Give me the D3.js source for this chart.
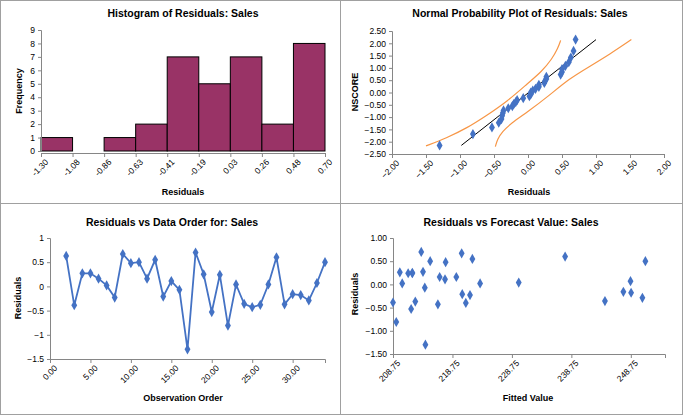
<!DOCTYPE html>
<html><head><meta charset="utf-8">
<script src="https://cdn.jsdelivr.net/npm/d3@7"></script>
<style>
body{margin:0;background:#fff;font-family:"Liberation Sans",Arial,sans-serif;}
text{fill:#000;}
</style></head><body>
<svg id="chart" width="683" height="415"></svg>
<script>
// histogram
const binEdges = [-1.30, -1.08, -0.86, -0.63, -0.41, -0.19, 0.03, 0.26, 0.48, 0.70];
const binCounts = [1, 0, 1, 2, 7, 5, 7, 2, 8];
// residuals in observation order (obs 2..34)
const obsOrder = d3.range(2, 35);
const residuals = [0.63, -0.39, 0.27, 0.27, 0.16, 0.02, -0.23, 0.67, 0.48, 0.50, 0.16, 0.55, -0.21, 0.11, -0.07,
  -1.30, 0.70, 0.25, -0.53, 0.24, -0.81, 0.04, -0.36, -0.43, -0.38, 0.04, 0.60, -0.37, -0.16, -0.18, -0.29, 0.07, 0.50];
// normal scores for sorted residuals
const nscores = [-2.15, -1.69, -1.42, -1.23, -1.08, -0.95, -0.83, -0.73, -0.64, -0.55, -0.47, -0.39, -0.31, -0.23, -0.15, -0.08,
  0.00, 0.08, 0.15, 0.23, 0.31, 0.39, 0.47, 0.55, 0.64, 0.73, 0.83, 0.95, 1.08, 1.23, 1.42, 1.69, 2.15];
const fitLine = [[-0.98, -2.15], [1.00, 2.15]];
const upperBand = [[-1.5, -2.17], [-1.2, -1.85], [-0.9, -1.45], [-0.6, -0.92], [-0.3, -0.35], [0, 0.38], [0.2, 0.85], [0.35, 1.35], [0.44, 1.8], [0.48, 2.12]];
const lowerBand = [[-0.48, -2.2], [-0.45, -1.9], [-0.38, -1.6], [-0.25, -1.25], [0, -0.78], [0.3, -0.15], [0.6, 0.55], [0.9, 1.05], [1.2, 1.55], [1.52, 2.15]];
// residuals vs fitted
const fitted = [208.75, 209.3, 209.9, 210.3, 211.3, 212.0, 211.8, 212.5, 213.5, 213.8, 214.1, 214.2, 215.0, 216.3, 216.6, 217.5, 217.6,
  219.4, 220.3, 220.4, 221.0, 221.7, 222.1, 223.4, 229.9, 237.7, 244.4, 247.5, 248.7, 248.8, 250.7, 251.2, 212.0];
const fittedResid = [-0.39, -0.81, 0.26, 0.02, 0.24, 0.24, -0.53, -0.37, 0.70, 0.27, -0.07, -1.30, 0.50, -0.43, 0.16, 0.11, 0.48,
  0.16, 0.67, -0.21, -0.40, -0.23, 0.55, 0.02, 0.04, 0.60, -0.36, -0.16, 0.07, -0.18, -0.29, 0.50, 0.25];

const svg = d3.select("#chart");
const blue = "#4472C4";
const axisGray = "#868686";

// panel frames
svg.append("rect").attr("x", 0.5).attr("y", 0.5).attr("width", 682).attr("height", 414).attr("fill", "none").attr("stroke", "#a0a0a0");
svg.append("line").attr("x1", 340.5).attr("x2", 340.5).attr("y1", 0).attr("y2", 415).attr("stroke", "#a0a0a0");
svg.append("line").attr("x1", 0).attr("x2", 683).attr("y1", 203.5).attr("y2", 203.5).attr("stroke", "#a0a0a0");

function title(cx, y, t) {
  svg.append("text").attr("x", cx).attr("y", y).attr("text-anchor", "middle")
    .attr("font-size", 10.5).attr("font-weight", "bold").text(t);
}
function xTitle(cx, y, t) {
  svg.append("text").attr("x", cx).attr("y", y).attr("text-anchor", "middle")
    .attr("font-size", 9).attr("font-weight", "bold").text(t);
}
function yTitle(x, cy, t) {
  svg.append("text").attr("transform", `translate(${x},${cy}) rotate(-90)`).attr("text-anchor", "middle")
    .attr("font-size", 9).attr("font-weight", "bold").text(t);
}
function styleAxis(g) {
  g.selectAll("path,line").attr("stroke", axisGray);
  g.selectAll("text").attr("font-size", 8.5).attr("fill", "#000");
}
function rotateLabels(g) {
  g.selectAll("text").attr("text-anchor", "end").attr("dx", "-0.2em").attr("dy", "0.6em")
    .attr("transform", "rotate(-45)");
}
function diamonds(g, pts, x, y) {
  g.selectAll(null).data(pts).join("path")
    .attr("d", d3.symbol(d3.symbolDiamond, 30))
    .attr("transform", d => `translate(${x(d[0])},${y(d[1])})`)
    .attr("fill", blue);
}

// ---- Histogram
{
  const x = d3.scaleLinear().domain([0, 9]).range([41, 325]);
  const y = d3.scaleLinear().domain([0, 9]).range([151, 30]);
  title(183, 17, "Histogram of Residuals:  Sales");
  svg.append("g").selectAll("rect").data(binCounts).join("rect")
    .attr("x", (d, i) => x(i)).attr("width", x(1) - x(0))
    .attr("y", d => y(d)).attr("height", d => y(0) - y(d))
    .attr("fill", "#993366").attr("stroke", "#000").attr("stroke-width", 1);
  const gy = svg.append("g").attr("transform", "translate(41,0)").call(d3.axisLeft(y).ticks(9).tickSize(3));
  styleAxis(gy);
  const gx = svg.append("g").attr("transform", "translate(0,153)")
    .call(d3.axisBottom(x).tickValues(d3.range(10)).tickFormat(i => binEdges[i].toFixed(2)).tickSize(4));
  styleAxis(gx); rotateLabels(gx);
  xTitle(183, 195, "Residuals");
  yTitle(22, 91, "Frequency");
}

// ---- Normal probability plot
{
  const x = d3.scaleLinear().domain([-2, 2]).range([392, 664]);
  const y = d3.scaleLinear().domain([-2.5, 2.5]).range([154, 31]);
  title(520, 17, "Normal Probability Plot of Residuals:  Sales");
  const gy = svg.append("g").attr("transform", "translate(392,0)")
    .call(d3.axisLeft(y).ticks(10).tickFormat(d3.format(".2f")).tickSize(3));
  styleAxis(gy);
  const gx = svg.append("g").attr("transform", "translate(0,154)")
    .call(d3.axisBottom(x).ticks(8).tickFormat(d3.format(".2f")).tickSize(4));
  styleAxis(gx); rotateLabels(gx);
  const line = d3.line().x(d => x(d[0])).y(d => y(d[1])).curve(d3.curveBasis);
  svg.append("path").attr("d", line(upperBand)).attr("fill", "none").attr("stroke", "#F79646").attr("stroke-width", 1.2);
  svg.append("path").attr("d", line(lowerBand)).attr("fill", "none").attr("stroke", "#F79646").attr("stroke-width", 1.2);
  svg.append("path").attr("d", d3.line().x(d => x(d[0])).y(d => y(d[1]))(fitLine)).attr("stroke", "#000").attr("stroke-width", 1);
  const sorted = residuals.slice().sort(d3.ascending);
  diamonds(svg.append("g"), sorted.map((r, i) => [r, nscores[i]]), x, y);
  xTitle(529, 195, "Residuals");
  yTitle(358, 92, "NSCORE");
}

// ---- Residuals vs order
{
  const x = d3.scaleLinear().domain([0, 34]).range([50, 325]);
  const y = d3.scaleLinear().domain([-1.5, 1]).range([359, 238]);
  title(172, 226, "Residuals vs Data Order for:  Sales");
  const gy = svg.append("g").attr("transform", "translate(50,0)")
    .call(d3.axisLeft(y).tickValues([-1.5, -1, -0.5, 0, 0.5, 1]).tickFormat(d3.format("")).tickSize(3));
  styleAxis(gy);
  const gx = svg.append("g").attr("transform", "translate(0,359)")
    .call(d3.axisBottom(x).tickValues(d3.range(0, 31, 5)).tickFormat(d3.format(".2f")).tickSize(4));
  styleAxis(gx); rotateLabels(gx);
  const pts = obsOrder.map((o, i) => [o, residuals[i]]);
  svg.append("path").attr("d", d3.line().x(d => x(d[0])).y(d => y(d[1]))(pts))
    .attr("fill", "none").attr("stroke", blue).attr("stroke-width", 1.8);
  diamonds(svg.append("g"), pts, x, y);
  xTitle(183, 401, "Observation Order");
  yTitle(21, 298, "Residuals");
}

// ---- Residuals vs forecast
{
  const x = d3.scaleLinear().domain([208.75, 254.5]).range([393, 665]);
  const y = d3.scaleLinear().domain([-1.5, 1]).range([354, 238]);
  title(511, 226, "Residuals vs Forecast Value:  Sales");
  const gy = svg.append("g").attr("transform", "translate(393,0)")
    .call(d3.axisLeft(y).tickValues([-1.5, -1, -0.5, 0, 0.5, 1]).tickFormat(d3.format(".2f")).tickSize(3));
  styleAxis(gy);
  const gx = svg.append("g").attr("transform", "translate(0,354)")
    .call(d3.axisBottom(x).tickValues([208.75, 218.75, 228.75, 238.75, 248.75]).tickFormat(d3.format(".2f")).tickSize(4));
  styleAxis(gx); rotateLabels(gx);
  diamonds(svg.append("g"), fitted.map((f, i) => [f, fittedResid[i]]), x, y);
  xTitle(528, 401, "Fitted Value");
  yTitle(358, 294, "Residuals");
}
</script>
</body></html>
